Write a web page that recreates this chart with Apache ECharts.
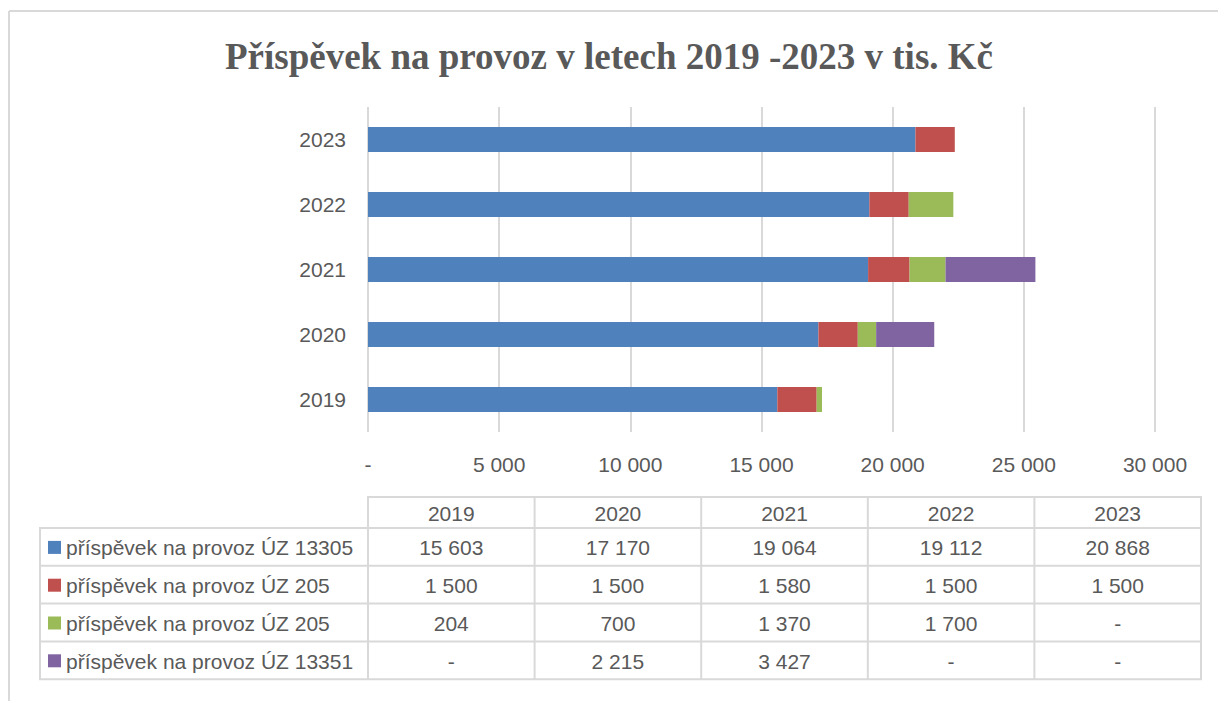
<!DOCTYPE html>
<html>
<head>
<meta charset="utf-8">
<script src="https://cdn.jsdelivr.net/npm/echarts@6/dist/echarts.min.js"></script>
<style>
  html, body { margin: 0; padding: 0; background: #fff; }
  #main { width: 1218px; height: 701px; }
</style>
</head>
<body>
<div id="main"></div>
<script>
var years = ['2019', '2020', '2021', '2022', '2023'];
var seriesNames = [
	'příspěvek na provoz ÚZ 13305',
	'příspěvek na provoz ÚZ 205',
	'příspěvek na provoz ÚZ 205',
	'příspěvek na provoz ÚZ 13351'
];
var uz13305 = [15603, 17170, 19064, 19112, 20868];
var uz205a = [1500, 1500, 1580, 1500, 1500];
var uz205b = [204, 700, 1370, 1700, null];
var uz13351 = [null, 2215, 3427, null, null];
var xTicks = [0, 5000, 10000, 15000, 20000, 25000, 30000];
var colors = ['#4F81BD', '#C0504D', '#9BBB59', '#8064A2'];

var allSeries = [uz13305, uz205a, uz205b, uz13351];
var textColor = '#595959';
var lineColor = '#D9D9D9';
var sansFont = '"Liberation Sans", Arial, sans-serif';
var fs = 21;

function fmt(v) {
	if (v === null || v === 0) return '-';
	return String(v).replace(/\B(?=(\d{3})+(?!\d))/g, ' ');
}

// table geometry
var tabLeft = 40, tabSplit = 368, tabRight = 1201;
var headTop = 497, rowTop = 528, rowH = 37.8;
var colW = (tabRight - tabSplit) / years.length;

var graphics = [];
// outer frame (top + left)
graphics.push({ type: 'line', shape: { x1: 9, y1: 11, x2: 1218, y2: 11 }, style: { stroke: lineColor, lineWidth: 2 } });
graphics.push({ type: 'line', shape: { x1: 9, y1: 11, x2: 9, y2: 701 }, style: { stroke: lineColor, lineWidth: 2 } });

// header row
graphics.push({ type: 'rect', shape: { x: tabSplit, y: headTop, width: tabRight - tabSplit, height: rowTop - headTop }, style: { fill: 'none', stroke: lineColor, lineWidth: 2 } });
// body box
var bodyBottom = rowTop + rowH * allSeries.length;
graphics.push({ type: 'rect', shape: { x: tabLeft, y: rowTop, width: tabRight - tabLeft, height: bodyBottom - rowTop }, style: { fill: 'none', stroke: lineColor, lineWidth: 2 } });
// row lines
for (var r = 1; r < allSeries.length; r++) {
	graphics.push({ type: 'line', shape: { x1: tabLeft, y1: rowTop + r * rowH, x2: tabRight, y2: rowTop + r * rowH }, style: { stroke: lineColor, lineWidth: 2 } });
}
// column lines + year header
for (var c = 0; c < years.length; c++) {
	var cx = tabSplit + c * colW;
	graphics.push({ type: 'line', shape: { x1: cx, y1: headTop, x2: cx, y2: bodyBottom }, style: { stroke: lineColor, lineWidth: 2 } });
	graphics.push({ type: 'text', style: { text: years[c], x: cx + colW / 2, y: (headTop + rowTop) / 2 + 1, align: 'center', verticalAlign: 'middle', fill: textColor, fontSize: fs, fontFamily: sansFont } });
}
// series rows
for (var s = 0; s < allSeries.length; s++) {
	var cy = rowTop + s * rowH + rowH / 2 + 1;
	graphics.push({ type: 'rect', shape: { x: 48, y: cy - 7, width: 13, height: 13 }, style: { fill: colors[s] } });
	graphics.push({ type: 'text', style: { text: seriesNames[s], x: 66, y: cy, align: 'left', verticalAlign: 'middle', fill: textColor, fontSize: fs, fontFamily: sansFont } });
	for (var c2 = 0; c2 < years.length; c2++) {
		graphics.push({ type: 'text', style: { text: fmt(allSeries[s][c2]), x: tabSplit + c2 * colW + colW / 2, y: cy, align: 'center', verticalAlign: 'middle', fill: textColor, fontSize: fs, fontFamily: sansFont } });
	}
}

var chart = echarts.init(document.getElementById('main'), null, { renderer: 'svg' });

var option = {
	animation: false,
	backgroundColor: '#fff',
	title: {
		text: 'Příspěvek na provoz v letech 2019 -2023 v tis. Kč',
		left: 'center',
		top: 33,
		textStyle: { fontFamily: '"Liberation Serif", "Times New Roman", serif', fontWeight: 'bold', fontSize: 37, color: textColor }
	},
	grid: { left: 368, right: 63, top: 107, bottom: 269, containLabel: false },
	xAxis: {
		type: 'value',
		min: xTicks[0],
		max: xTicks[xTicks.length - 1],
		interval: xTicks[1] - xTicks[0],
		axisLine: { show: false },
		axisTick: { show: false },
		splitLine: { lineStyle: { color: lineColor, width: 2 } },
		axisLabel: { margin: 22, color: textColor, fontSize: fs, fontFamily: sansFont, formatter: fmt }
	},
	yAxis: {
		type: 'category',
		data: years,
		axisLine: { show: false },
		axisTick: { show: false },
		axisLabel: { margin: 22, color: textColor, fontSize: fs, fontFamily: sansFont }
	},
	series: allSeries.map(function (vals, i) {
		return {
			name: seriesNames[i],
			type: 'bar',
			stack: 'total',
			barWidth: 25,
			itemStyle: { color: colors[i] },
			data: vals
		};
	}),
	graphic: graphics
};

chart.setOption(option);
</script>
</body>
</html>
